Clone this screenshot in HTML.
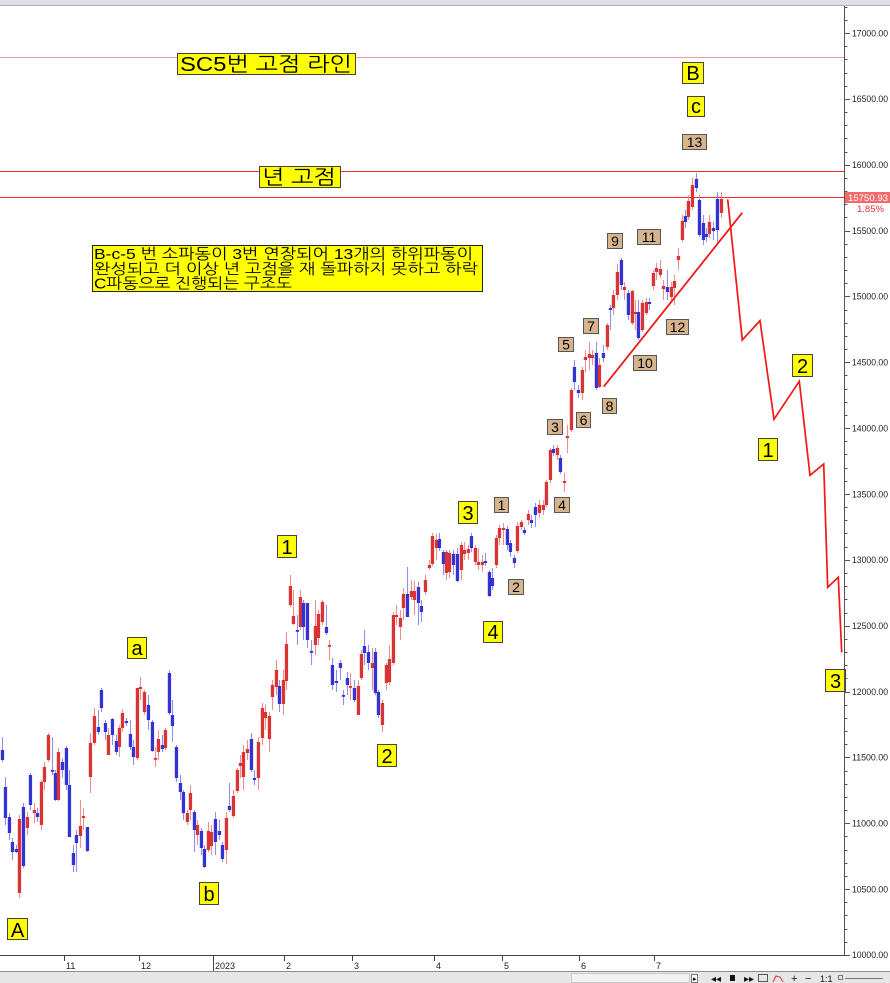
<!DOCTYPE html>
<html><head><meta charset="utf-8">
<style>
html,body{margin:0;padding:0;background:#fff;}
svg{display:block;}
text{font-family:"Liberation Sans","NanumGothic","Noto Sans CJK KR",sans-serif;}
.ax{font-size:9px;fill:#222;}
.yl{fill:#ffff00;stroke:#444;stroke-width:1;}
.tn{fill:#d6b48e;stroke:#555;stroke-width:1;}
.yt{font-size:20px;fill:#000;text-anchor:middle;}
.tt{font-size:14px;fill:#000;text-anchor:middle;}
</style></head>
<body>
<svg width="890" height="983" viewBox="0 0 890 983" xmlns="http://www.w3.org/2000/svg">
<rect x="0" y="0" width="890" height="983" fill="#fff"/>
<rect x="0" y="0" width="890" height="5" fill="#dde0e4"/>
<line x1="0" y1="5.5" x2="890" y2="5.5" stroke="#b4b4b4" stroke-width="1"/>

<line x1="0" y1="57.5" x2="844" y2="57.5" stroke="#f49a9a" stroke-width="1" shape-rendering="crispEdges"/>
<line x1="0" y1="171.5" x2="844" y2="171.5" stroke="#ee2a2a" stroke-width="1" shape-rendering="crispEdges"/>
<line x1="0" y1="197.5" x2="844" y2="197.5" stroke="#ee2a2a" stroke-width="1" shape-rendering="crispEdges"/>

<g id="candles"></g>

<line x1="603.7" y1="386.7" x2="742.3" y2="212.7" stroke="#f21818" stroke-width="1.8"/>
<polyline points="727.7,199.3 742.3,340 760,320.7 774,419.3 799.3,381.3 810,475.3 823.7,464 827.7,587.3 838.3,577.3 841.7,652.3" fill="none" stroke="#f21818" stroke-width="1.7"/>

<rect x="177.5" y="53.5" width="178" height="21" class="yl"/>
<text x="180" y="71" font-size="20" textLength="172" lengthAdjust="spacingAndGlyphs">SC5번 고점 라인</text>
<rect x="259.5" y="166.5" width="81" height="21" class="yl"/>
<text x="262" y="184" font-size="20" textLength="74" lengthAdjust="spacingAndGlyphs">년 고점</text>

<rect x="92.5" y="245.5" width="390" height="46" fill="#ffff00" stroke="#222" stroke-width="1"/>
<text x="94" y="259" font-size="15" textLength="379" lengthAdjust="spacingAndGlyphs">B-c-5 번 소파동이 3번 연장되어 13개의 하위파동이</text>
<text x="94" y="274" font-size="15" textLength="384" lengthAdjust="spacingAndGlyphs">완성되고 더 이상 년 고점을 재 돌파하지 못하고 하락</text>
<text x="94" y="288.5" font-size="15" textLength="198" lengthAdjust="spacingAndGlyphs">C파동으로 진행되는 구조도</text>

<g>
<rect x="7.5" y="918.5" width="20" height="21" class="yl"/><text x="17.5" y="937" class="yt">A</text>
<rect x="127.5" y="637.5" width="19" height="21" class="yl"/><text x="137" y="655" class="yt">a</text>
<rect x="199.5" y="882.5" width="19" height="22" class="yl"/><text x="209" y="901" class="yt">b</text>
<rect x="277.5" y="535.5" width="19" height="22" class="yl"/><text x="287" y="554" class="yt">1</text>
<rect x="377.5" y="744.5" width="19" height="22" class="yl"/><text x="387" y="763" class="yt">2</text>
<rect x="458.5" y="501.5" width="19" height="22" class="yl"/><text x="468" y="520" class="yt">3</text>
<rect x="483.5" y="621.5" width="19" height="21" class="yl"/><text x="493" y="639" class="yt">4</text>
<rect x="682.5" y="62.5" width="21" height="21" class="yl"/><text x="693" y="80" class="yt">B</text>
<rect x="687.5" y="96.5" width="17" height="20" class="yl"/><text x="696" y="113" class="yt">c</text>
<rect x="758.5" y="438.5" width="19" height="22" class="yl"/><text x="768" y="457" class="yt">1</text>
<rect x="792.5" y="354.5" width="20" height="22" class="yl"/><text x="802.5" y="373" class="yt">2</text>
<rect x="825.5" y="669.5" width="20" height="22" class="yl"/><text x="835.5" y="688" class="yt">3</text>
</g>

<g>
<rect x="682.5" y="134.5" width="24" height="15" class="tn"/><text x="694.5" y="147" class="tt">13</text>
<rect x="494.5" y="497.5" width="14" height="15" class="tn"/><text x="501.5" y="510" class="tt">1</text>
<rect x="508.5" y="579.5" width="15" height="15" class="tn"/><text x="516" y="592" class="tt">2</text>
<rect x="547.5" y="419.5" width="15" height="15" class="tn"/><text x="555" y="432" class="tt">3</text>
<rect x="554.5" y="497.5" width="15" height="15" class="tn"/><text x="562" y="510" class="tt">4</text>
<rect x="558.5" y="337.5" width="15" height="14" class="tn"/><text x="566" y="349.5" class="tt">5</text>
<rect x="576.5" y="412.5" width="14" height="15" class="tn"/><text x="583.5" y="425" class="tt">6</text>
<rect x="583.5" y="318.5" width="15" height="15" class="tn"/><text x="591" y="331" class="tt">7</text>
<rect x="602.5" y="398.5" width="14" height="15" class="tn"/><text x="609.5" y="411" class="tt">8</text>
<rect x="607.5" y="233.5" width="15" height="15" class="tn"/><text x="615" y="246" class="tt">9</text>
<rect x="633.5" y="355.5" width="23" height="15" class="tn"/><text x="645" y="368" class="tt">10</text>
<rect x="637.5" y="229.5" width="23" height="15" class="tn"/><text x="649" y="242" class="tt">11</text>
<rect x="666.5" y="319.5" width="22" height="15" class="tn"/><text x="677.5" y="332" class="tt">12</text>
</g>

<line x1="844.5" y1="6" x2="844.5" y2="956" stroke="#555" stroke-width="1"/>
<g id="yaxis"></g>
<rect x="845" y="192" width="45" height="11" fill="#f46a6a"/>
<text x="848" y="201" font-size="9.5" fill="#fff" textLength="40" lengthAdjust="spacingAndGlyphs">15750.93</text>
<text x="857" y="212" font-size="9.5" fill="#e83030">1.85%</text>

<line x1="0" y1="955.5" x2="845" y2="955.5" stroke="#444" stroke-width="1"/>
<g id="xaxis"></g>

<rect x="0" y="971" width="890" height="12" fill="#e6e6e6"/>
<line x1="0" y1="971.5" x2="890" y2="971.5" stroke="#8c8c8c" stroke-width="1"/>
<rect x="571.5" y="973.5" width="118" height="9" fill="#f2f2f2" stroke="#c8c8c8"/>
<rect x="691.5" y="974.5" width="6" height="8" fill="#fff" stroke="#777"/>
<text x="693" y="981" font-size="7" fill="#000">▸</text>
<text x="711" y="982" font-size="10" fill="#111">◂◂</text>
<rect x="730" y="975" width="5" height="6" fill="#111"/>
<text x="744" y="982" font-size="10" fill="#111">▸▸</text>
<rect x="758.5" y="974.5" width="9" height="7" fill="none" stroke="#555"/>
<path d="M773 982 L776 976 L780 977 L783 982" fill="none" stroke="#e03030" stroke-width="1"/>
<text x="791" y="982" font-size="11" fill="#111">+</text>
<text x="805" y="982" font-size="11" fill="#111">−</text>
<text x="820" y="982" font-size="9" fill="#111">1:1</text>
<rect x="838.5" y="975.5" width="4" height="4" fill="none" stroke="#777"/>
<line x1="845" y1="978.5" x2="883" y2="978.5" stroke="#777" stroke-width="1"/>
</svg>

<script>
(function(){
var C=[
[2,750,760,737,762,0],[5,787,818,777,825,0],[9,817,833,813,840,0],[12,842,852,838,860,0],[16,849,852,845,853,0],
[19,819,893,815,898,1],[23,807,866,803,868,0],[27,817,828,812,835,1],[30,775,805,773,810,0],[34,810,813,803,823,1],
[37,813,817,808,822,0],[41,782,825,780,830,1],[44,767,782,762,790,1],[48,735,760,733,762,1],[52,770,771,737,775,0],
[55,773,800,770,801,0],[58,752,800,748,801,1],[62,762,770,758,778,0],[66,748,785,746,790,0],[69,785,837,770,837,0],
[73,853,865,845,872,0],[76,835,843,830,872,0],[80,826,836,800,848,1],[83,816,818,808,830,1],[87,827,851,827,852,0],
[90,743,777,733,793,1],[94,716,743,708,745,1],[98,727,732,710,735,0],[101,690,708,688,712,0],[105,723,732,720,740,0],
[108,735,755,728,755,1],[112,719,735,718,745,0],[116,741,752,735,755,0],[119,728,747,725,757,1],[122,713,728,709,732,1],
[126,721,723,718,726,0],[130,734,747,720,750,0],[133,747,757,740,765,0],[137,688,758,688,760,1],[140,687,689,677,700,1],
[144,692,712,690,715,1],[148,705,720,695,730,0],[152,722,751,720,752,0],[155,758,759,747,767,1],[158,739,752,730,760,1],
[162,745,749,735,752,0],[165,730,748,728,750,1],[169,673,713,670,715,0],[172,715,726,700,742,0],[176,747,778,745,782,0],
[180,783,792,775,800,0],[183,792,813,790,820,0],[187,813,822,810,825,1],[190,793,810,785,820,1],[194,812,830,810,852,0],
[197,825,835,820,845,1],[201,831,848,828,855,0],[204,849,867,845,868,0],[208,831,850,822,852,1],[211,832,846,825,855,1],
[215,819,842,812,855,0],[219,831,835,820,840,0],[222,845,859,842,862,0],[226,818,850,812,864,1],[229,806,810,783,812,0],
[233,796,816,790,818,1],[237,770,791,768,793,1],[240,763,766,755,778,1],[243,752,777,745,790,1],[247,749,753,740,760,1],
[251,739,770,733,772,0],[254,778,780,770,785,0],[258,742,778,737,790,1],[262,708,738,703,745,1],[265,712,718,705,730,1],
[269,716,739,712,752,1],[272,685,697,680,710,1],[276,670,687,660,695,1],[279,686,704,680,712,0],[283,680,704,670,715,1],
[286,644,681,632,690,1],[290,586,605,575,607,1],[293,616,624,590,625,1],[297,630,631,615,645,0],[300,597,627,590,630,1],
[303,603,627,600,640,0],[307,603,640,603,648,0],[311,651,652,640,665,0],[315,626,645,600,655,1],[318,614,638,610,645,1],
[322,602,622,600,625,1],[326,627,633,605,635,0],[329,645,646,640,660,1],[332,665,685,658,690,0],[336,681,683,670,692,0],
[340,663,668,660,680,0],[343,695,696,690,705,0],[347,678,685,672,695,0],[350,686,687,673,700,1],[354,688,700,680,702,0],
[358,686,715,680,715,1],[361,654,678,650,680,1],[364,646,653,630,665,0],[368,652,663,645,670,0],[372,663,668,648,690,1],
[375,652,693,648,695,0],[378,692,715,690,718,0],[382,703,725,700,732,1],[386,665,683,663,690,1],[389,659,682,645,685,1],
[393,615,663,612,665,1],[396,615,617,605,625,1],[400,618,627,610,640,1],[403,594,608,588,620,1],[407,594,617,567,617,0],
[411,591,597,580,600,1],[414,591,600,581,615,1],[418,587,603,582,625,0],[421,606,612,600,622,0],[425,580,592,575,595,1],
[429,565,568,560,570,1],[432,536,564,533,566,1],[436,540,548,534,560,1],[439,539,548,533,551,0],[443,552,564,550,575,0],
[446,552,573,550,580,1],[449,553,572,550,578,1],[453,554,565,550,575,0],[457,554,581,548,582,0],[461,545,570,542,580,1],
[464,550,554,542,560,1],[468,549,553,545,560,1],[471,536,548,533,552,0],[475,548,562,545,565,1],[478,562,565,548,570,1],
[482,562,565,555,572,1],[485,561,563,553,566,0],[489,572,596,570,597,0],[492,578,586,568,590,0],[496,538,565,535,568,1],
[499,528,538,525,545,1],[503,528,530,523,545,1],[507,529,545,526,550,0],[510,543,552,540,557,0],[514,558,563,555,568,0],
[517,526,551,522,553,1],[521,522,527,520,530,1],[524,530,533,527,535,0],[528,514,520,510,525,1],
[531,520,523,515,528,0],[535,507,515,503,527,0],[539,505,513,500,518,1],[543,505,510,500,515,1],[546,482,505,480,507,1],
[550,450,480,448,483,1],[553,449,453,445,456,0],[557,448,455,445,460,1],[560,458,472,455,474,0],[564,481,483,473,492,1],
[567,436,438,425,453,1],[571,390,430,388,432,1],[574,367,382,360,390,0],[578,390,393,385,398,0],[582,370,393,367,400,1],
[585,357,360,350,372,1],[589,354,358,342,370,1],[592,355,358,350,365,1],[596,353,388,342,390,0],[599,365,387,358,388,1],
[603,353,358,345,362,0],[607,325,347,323,350,1],[610,308,310,305,330,0],[613,295,308,290,315,1],[617,272,295,264,300,1],
[621,260,285,258,290,0],[624,287,290,282,300,1],[628,293,315,290,320,0],[632,291,323,290,325,1],[635,312,314,300,330,1],
[638,312,338,300,340,0],[642,303,330,300,332,1],[646,302,313,298,315,1],[649,302,304,298,310,0],[653,273,286,270,290,1],
[656,268,272,263,280,1],[660,269,275,260,278,1],[663,286,289,280,300,1],[667,287,292,270,300,0],[671,287,297,282,302,1],
[674,281,288,275,305,1],[678,256,260,248,270,1],[682,221,240,215,242,1],[685,216,222,210,228,0],[688,201,217,195,220,1],
[692,185,207,178,210,1],[696,179,188,173,192,0],[699,200,235,195,237,0],[703,223,240,215,245,0],[706,234,237,228,242,0],
[709,222,234,215,238,1],[713,228,231,222,240,0],[717,199,230,192,242,0],[721,199,213,192,218,1]
];
var s='';
for(var i=0;i<C.length;i++){
 var c=C[i],x=c[0],r=c[5];
 s+='<line x1="'+(x+0.5)+'" y1="'+c[3]+'" x2="'+(x+0.5)+'" y2="'+c[4]+'" stroke="'+(r?'#ec8f8f':'#8f8fec')+'" stroke-width="1.1"/>';
 var h=Math.max(c[2]-c[1],1.8);
 s+='<rect x="'+(x-1.2)+'" y="'+c[1]+'" width="3.3" height="'+h+'" fill="'+(r?'#d93333':'#3333d4')+'"/>';
}
document.getElementById('candles').innerHTML=s;

var a='';
for(var v=10000;v<=17200;v+=100){
 var y=33+(17000-v)*0.13171;
 if(y<6)continue;
 var yy=Math.round(y)+0.5;
 if(v%500===0){
  a+='<line x1="844" y1="'+yy+'" x2="850" y2="'+yy+'" stroke="#555" stroke-width="1"/>';
  if(y<952) a+='<text x="852" y="'+(y+3.3).toFixed(1)+'" class="ax" textLength="36" lengthAdjust="spacingAndGlyphs">'+v+'.00</text>';
 } else {
  a+='<line x1="844" y1="'+yy+'" x2="847.5" y2="'+yy+'" stroke="#555" stroke-width="1"/>';
 }
}
a+='<text x="852" y="958" class="ax" textLength="36" lengthAdjust="spacingAndGlyphs">10000.00</text>';
document.getElementById('yaxis').innerHTML=a;

var T=[[64,'11'],[139,'12'],[213,'2023'],[284,'2'],[352,'3'],[434,'4'],[502,'5'],[579,'6'],[654,'7']];
var d='';
for(var j=0;j<T.length;j++){
 var tx=T[j][0]+0.5;
 var y2=T[j][1]==='2023'?971:961;
 d+='<line x1="'+tx+'" y1="956" x2="'+tx+'" y2="'+y2+'" stroke="#444" stroke-width="1"/>';
 d+='<text x="'+(T[j][0]+2)+'" y="969" class="ax">'+T[j][1]+'</text>';
}
document.getElementById('xaxis').innerHTML=d;
})();
</script>
</body></html>
